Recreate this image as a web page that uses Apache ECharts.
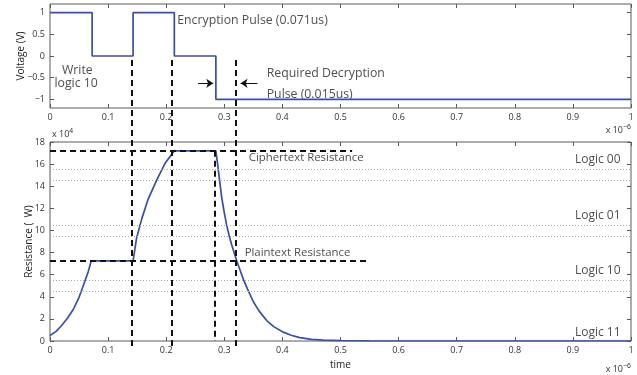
<!DOCTYPE html>
<html><head><meta charset="utf-8">
<script src="https://cdn.jsdelivr.net/npm/echarts@6/dist/echarts.min.js"></script>
<style>html,body{margin:0;padding:0;background:#fff}#c{width:637px;height:375px}</style>
</head><body><div id="c"></div>
<script>
// ---- data (time in units of 1e-6 s) ----
const voltTime = [0, 0.0725, 0.0725, 0.143, 0.143, 0.214, 0.214, 0.2855, 0.2855, 1];
const voltage  = [1, 1, 0, 0, 1, 1, 0, 0, -1, -1];

const resTime = [0, 0.01, 0.02, 0.03, 0.04, 0.05, 0.06, 0.066, 0.071,
  0.143, 0.149, 0.158, 0.169, 0.184, 0.198, 0.207, 0.214,
  0.2855, 0.2885, 0.2915, 0.2955, 0.3, 0.304, 0.3085, 0.3127, 0.3213, 0.333, 0.34, 0.35,
  0.36, 0.373, 0.385, 0.4016, 0.415, 0.43, 0.45, 0.47, 0.5, 0.55, 0.6, 1];
const resistance = [0.5, 0.85, 1.4, 2.05, 2.85, 3.95, 5.4, 6.3, 7.25,
  7.25, 9.3, 11.07, 12.84, 14.6, 16.07, 16.7, 17.2,
  17.2, 16.0, 14.7, 13.0, 11.6, 10.5, 9.5, 8.7, 7.26, 5.55, 4.7, 3.55,
  2.7, 1.85, 1.3, 0.8, 0.52, 0.3, 0.15, 0.08, 0.03, 0.01, 0, 0];

const pulseMarks = [0.143, 0.214, 0.323];
const decayMark = 0.283;
const cipherLevel = 17.2, cipherEnd = 0.52;
const plainLevel = 7.25, plainEnd = 0.545;
const logicBands = [15.5, 14.5, 10.5, 9.5, 5.5, 4.5];
const logicNames = ['Logic 00', 'Logic 01', 'Logic 10', 'Logic 11'];
const logicPos = [16.4, 11.35, 6.4, 0.8];
const arrowY = -0.63;
const voltTicks = [-1, -0.5, 0, 0.5, 1];

const topNotes = [
  {t: 0.219, v: 0.82, text: 'Encryption Pulse (0.071us)', pos: 'right'},
  {t: 0.047, v: -0.33, text: 'Write', pos: 'inside'},
  {t: 0.045, v: -0.64, text: 'logic 10', pos: 'inside'},
  {t: 0.373, v: -0.41, text: 'Required Decryption', pos: 'right'},
  {t: 0.373, v: -0.89, text: 'Pulse (0.015us)', pos: 'right'}
];
const botNotes = [
  {t: 0.342, v: 16.55, text: 'Ciphertext Resistance'},
  {t: 0.335, v: 8.0, text: 'Plaintext Resistance'}
];

// ---- styles ----
const FONT = '"Open Sans", "Noto Sans", sans-serif';
const BLUE = '#3c4ea6';
const AX = '#5a5a5a';
const tickStyle = {inside: true, length: 4, lineStyle: {color: AX, width: 1}};
const lbl = {fontSize: 9, color: '#333', fontFamily: FONT, margin: 5};
const minusFmt = v => String(v).replace('-', '\u2212');
const dashed = {color: '#111', type: [6, 4], width: 2};
const noLine = {show: false, onZero: false};

function xAx(g, pos, extra) {
  return Object.assign({gridIndex: g, type: 'value', min: 0, max: 1, interval: 0.1, position: pos,
    axisLine: noLine, axisTick: tickStyle, splitLine: {show: false},
    axisLabel: Object.assign({show: pos === 'bottom'}, lbl)}, extra || {});
}
function yAx(g, pos, min, max, interval, extra) {
  return Object.assign({gridIndex: g, type: 'value', min, max, interval, position: pos,
    axisLine: noLine, axisTick: tickStyle, splitLine: {show: false},
    axisLabel: Object.assign({show: pos === 'left', formatter: minusFmt}, lbl)}, extra || {});
}
const nameStyle = {fontSize: 10, color: '#222', fontFamily: FONT};

const chart = echarts.init(document.getElementById('c'), null, {renderer: 'canvas'});
chart.setOption({
  animation: false,
  backgroundColor: '#fff',
  grid: [
    {left: 50, top: 4, width: 581, height: 104, show: true, borderColor: AX, borderWidth: 1},
    {left: 50, top: 142, width: 581, height: 204, show: true, borderColor: AX, borderWidth: 1},
    {left: 50, top: 56, width: 581, height: 290, show: false}
  ],
  xAxis: [
    xAx(0, 'bottom'), xAx(0, 'top'),
    xAx(1, 'bottom', {name: 'time', nameLocation: 'middle', nameGap: 19, nameTextStyle: nameStyle}),
    xAx(1, 'top'),
    {gridIndex: 2, type: 'value', min: 0, max: 1, show: false}
  ],
  yAxis: [
    yAx(0, 'left', -1.2, 1.2, 0.5, {name: 'Voltage (V)', nameLocation: 'middle', nameGap: 24,
      nameMoveOverlap: false, nameTextStyle: nameStyle,
      axisLabel: Object.assign({show: true, formatter: minusFmt, customValues: voltTicks}, lbl),
      axisTick: Object.assign({customValues: voltTicks}, tickStyle)}),
    yAx(0, 'right', -1.2, 1.2, 0.5, {
      axisLabel: {show: false},
      axisTick: Object.assign({customValues: voltTicks}, tickStyle)}),
    yAx(1, 'left', 0, 18, 2, {name: 'Resistance (  W)', nameLocation: 'middle', nameGap: 16,
      nameMoveOverlap: false, nameTextStyle: nameStyle}),
    yAx(1, 'right', 0, 18, 2),
    {gridIndex: 2, type: 'value', min: 0, max: 1, show: false}
  ],
  graphic: [
    {type: 'text', left: 52, top: 128, style: {text: 'x 10{s|4}', fontSize: 9, fill: '#333', fontFamily: FONT,
      rich: {s: {fontSize: 7, padding: [0, 0, 6, 0], fill: '#333'}}}},
    {type: 'text', right: 6, top: 124, style: {text: 'x 10{s|\u22126}', fontSize: 9, fill: '#333', fontFamily: FONT,
      rich: {s: {fontSize: 7, padding: [0, 0, 6, 0], fill: '#333'}}}},
    {type: 'text', right: 6, top: 363, style: {text: 'x 10{s|\u22126}', fontSize: 9, fill: '#333', fontFamily: FONT,
      rich: {s: {fontSize: 7, padding: [0, 0, 6, 0], fill: '#333'}}}}
  ],
  series: [
    {
      type: 'line', xAxisIndex: 0, yAxisIndex: 0, showSymbol: false, z: 3,
      data: voltTime.map((t, i) => [t, voltage[i]]),
      lineStyle: {color: BLUE, width: 1.7}, itemStyle: {color: BLUE},
      markLine: {silent: true, symbol: ['none', 'arrow'], symbolSize: 7, label: {show: false},
        lineStyle: {color: '#111', type: 'solid', width: 1},
        data: [
          [{coord: [0.255, arrowY]}, {coord: [0.281, arrowY]}],
          [{coord: [0.357, arrowY]}, {coord: [0.328, arrowY]}]
        ]}
    },
    {
      type: 'line', xAxisIndex: 2, yAxisIndex: 2, showSymbol: false, z: 3,
      data: resTime.map((t, i) => [t, resistance[i]]),
      lineStyle: {color: BLUE, width: 1.7}, itemStyle: {color: BLUE},
      markLine: {silent: true, symbol: 'none', label: {show: false},
        data: logicBands.map(v => ({yAxis: v, lineStyle: {color: '#aaa', type: [1, 2], width: 1}})).concat([
          [{coord: [0, cipherLevel], lineStyle: dashed}, {coord: [cipherEnd, cipherLevel]}],
          [{coord: [0, plainLevel], lineStyle: dashed}, {coord: [plainEnd, plainLevel]}],
          [{coord: [decayMark, cipherLevel], lineStyle: dashed}, {coord: [decayMark, 0]}]
        ])}
    },
    {
      type: 'line', xAxisIndex: 4, yAxisIndex: 4, showSymbol: false, z: 4,
      data: [[0, 0]], lineStyle: {opacity: 0},
      markLine: {silent: true, symbol: 'none', label: {show: false}, lineStyle: dashed,
        data: pulseMarks.map(t => ({xAxis: t}))}
    },
    {
      type: 'scatter', xAxisIndex: 0, yAxisIndex: 0, symbolSize: 0, silent: true,
      data: topNotes.map(n => ({value: [n.t, n.v], name: n.text,
        label: {show: true, position: n.pos, distance: 0, formatter: '{b}', fontSize: 12.3, color: '#222', fontFamily: FONT}}))
    },
    {
      type: 'scatter', xAxisIndex: 2, yAxisIndex: 2, symbolSize: 0, silent: true,
      data: botNotes.map(n => ({value: [n.t, n.v], name: n.text,
        label: {show: true, position: 'right', distance: 0, formatter: '{b}', fontSize: 11.4, color: '#222', fontFamily: FONT}}))
        .concat(logicNames.map((s, i) => ({value: [0.982, logicPos[i]], name: s,
        label: {show: true, position: 'left', distance: 0, formatter: '{b}', fontSize: 12, color: '#222', fontFamily: FONT}})))
    }
  ]
});
</script></body></html>
